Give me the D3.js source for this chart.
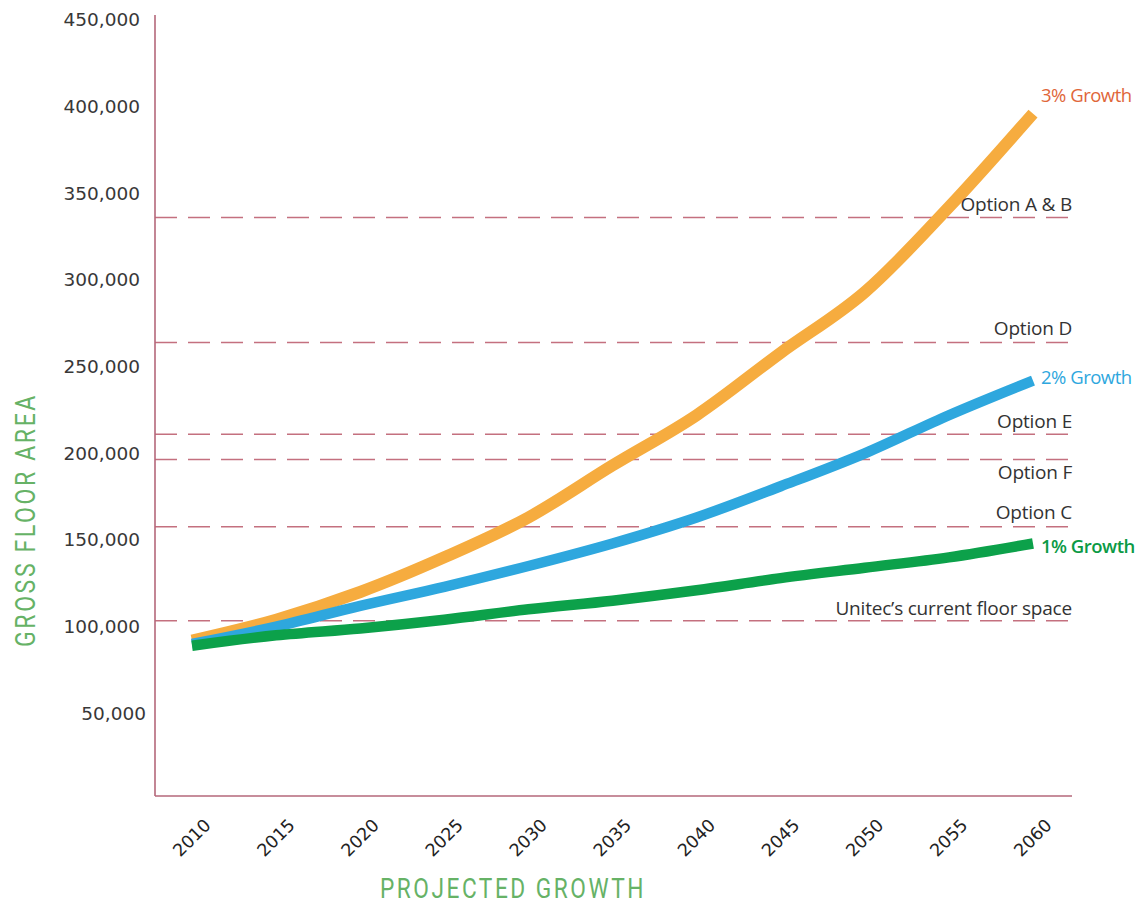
<!DOCTYPE html>
<html>
<head>
<meta charset="utf-8">
<script src="https://cdn.jsdelivr.net/npm/d3@7"></script>
<style>
  html, body { margin: 0; padding: 0; background: #fff; }
  svg { display: block; }
</style>
</head>
<body>
<svg id="chart" width="1142" height="906"></svg>
<script>
// ---- data ----
const years = [2010, 2015, 2020, 2025, 2030, 2035, 2040, 2045, 2050, 2055, 2060];
const growth3 = [92000, 104000, 120000, 140000, 163000, 193000, 222000, 258000, 293000, 342000, 396000];
const growth2 = [90000, 100000, 112000, 123000, 135000, 148000, 163000, 181000, 200000, 222000, 242000];
const growth1 = [89000, 95000, 99000, 104000, 110000, 115000, 121000, 128000, 134000, 140000, 148000];
const seriesNames = ["3% Growth", "2% Growth", "1% Growth"];
const yTicks = [50000, 100000, 150000, 200000, 250000, 300000, 350000, 400000, 450000];
const optionNames = ["Option A & B", "Option D", "Option E", "Option F", "Option C", "Unitec\u2019s current floor space"];
const optionValues = [336000, 264000, 211000, 196500, 157700, 103400];

// ---- setup ----
const svg = d3.select("#chart");
const x = d3.scaleLinear().domain([2010, 2060]).range([192, 1033]);
const y = d3.scaleLinear().domain([0, 450000]).range([800, 20]);
const axisLeftX = 155, axisBottomY = 796, axisRightX = 1072, axisTopY = 15;

const axisColor = "#b4677a";
const dashColor = "#c4707f";
const titleGreen = "#66b266";

// dashed option lines
const optG = svg.append("g");
optionValues.forEach((v, i) => {
  optG.append("line")
    .attr("x1", axisLeftX).attr("x2", axisRightX)
    .attr("y1", y(v)).attr("y2", y(v))
    .attr("stroke", dashColor).attr("stroke-width", 1.5)
    .attr("stroke-dasharray", "22,11");
});

// series lines
const series = [
  { name: seriesNames[0], values: growth3, color: "#f6ac3f", label: "#e0663a", width: 12, dy: -18 },
  { name: seriesNames[1], values: growth2, color: "#2ea7de", label: "#2ea7de", width: 10.5, dy: -3 },
  { name: seriesNames[2], values: growth1, color: "#0ca14a", label: "#0b9a45", width: 10.5, dy: 3 }
];
const line = d3.line()
  .x((d, i) => x(years[i]))
  .y(d => y(d))
  .curve(d3.curveMonotoneX);

series.forEach(s => {
  svg.append("path")
    .datum(s.values)
    .attr("d", line)
    .attr("fill", "none")
    .attr("stroke", s.color)
    .attr("stroke-width", s.width)
    .attr("stroke-linejoin", "round")
    .attr("stroke-linecap", "butt");
});

// series labels
series.forEach(s => {
  svg.append("text")
    .attr("x", x(2060) + 8)
    .attr("y", y(s.values[s.values.length - 1]) + s.dy)
    .attr("dy", "0.35em")
    .attr("fill", s.label)
    .attr("font-family", "'Open Sans', sans-serif")
    .attr("font-size", 18.5)
    .attr("letter-spacing", -0.5)
    .attr("font-weight", s.name === "1% Growth" ? 600 : 400)
    .text(s.name);
});

// option labels
const optOffsets = [-13, -14, -13, 13, -14, -12];
optionNames.forEach((n, i) => {
  svg.append("text")
    .attr("x", axisRightX)
    .attr("y", y(optionValues[i]) + optOffsets[i])
    .attr("dy", "0.35em")
    .attr("text-anchor", "end")
    .attr("fill", "#333")
    .attr("font-family", "'Open Sans', sans-serif")
    .attr("font-size", 19)
    .attr("letter-spacing", -0.2)
    .text(n);
});

// axis frame
svg.append("line")
  .attr("x1", axisLeftX).attr("x2", axisLeftX)
  .attr("y1", axisTopY).attr("y2", axisBottomY)
  .attr("stroke", axisColor).attr("stroke-width", 1.6);
svg.append("line")
  .attr("x1", axisLeftX).attr("x2", axisRightX)
  .attr("y1", axisBottomY).attr("y2", axisBottomY)
  .attr("stroke", axisColor).attr("stroke-width", 1.6);

// y axis labels
const yAxis = svg.append("g")
  .attr("transform", `translate(${axisLeftX},0)`)
  .call(d3.axisLeft(y).tickValues(yTicks).tickSize(0).tickPadding(15)
    .tickFormat(d3.format(",")));
yAxis.select(".domain").remove();
yAxis.selectAll("text")
  .attr("font-family", "'DejaVu Sans', Verdana, sans-serif")
  .attr("font-size", 18.5)
  .attr("fill", "#383838")
  .attr("dx", d => d === 50000 ? 6 : 0);

// x axis labels
const xAxis = svg.append("g")
  .attr("transform", `translate(0,${axisBottomY})`)
  .call(d3.axisBottom(x).tickValues(years).tickSize(0).tickFormat(d3.format("d")));
xAxis.select(".domain").remove();
xAxis.selectAll("text")
  .attr("font-family", "'DejaVu Sans', Verdana, sans-serif")
  .attr("font-size", 17.5)
  .attr("fill", "#222")
  .attr("text-anchor", "end")
  .attr("x", 0).attr("y", 0).attr("dy", "0.35em")
  .attr("transform", "translate(15,26) rotate(-45)");

// axis titles
svg.append("text")
  .attr("x", 380).attr("y", 898)
  .attr("fill", titleGreen)
  .attr("font-family", "Roboto, sans-serif")
  .attr("font-weight", 400)
  .attr("font-size", 27)
  .attr("letter-spacing", 3)
  .attr("textLength", 266)
  .attr("lengthAdjust", "spacingAndGlyphs")
  .text("PROJECTED GROWTH");

svg.append("text")
  .attr("transform", "translate(35,647) rotate(-90)")
  .attr("x", 0).attr("y", 0)
  .attr("fill", titleGreen)
  .attr("font-family", "Roboto, sans-serif")
  .attr("font-weight", 400)
  .attr("font-size", 27)
  .attr("letter-spacing", 3)
  .attr("textLength", 254)
  .attr("lengthAdjust", "spacingAndGlyphs")
  .text("GROSS FLOOR AREA");
</script>
</body>
</html>
